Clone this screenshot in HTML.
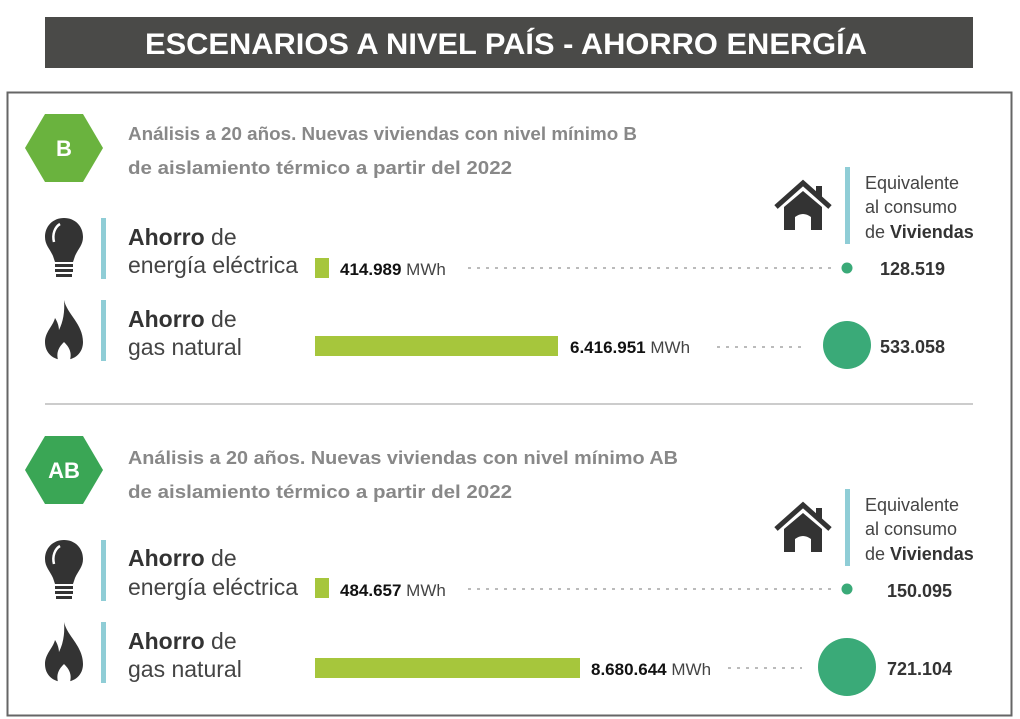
<!DOCTYPE html>
<html><head><meta charset="utf-8"><style>
html,body{margin:0;padding:0;background:#fff;}
svg{display:block;font-family:"Liberation Sans",sans-serif;}
</style></head><body>
<svg width="1020" height="719" viewBox="0 0 1020 719" xmlns="http://www.w3.org/2000/svg">
<defs>
<g id="bulb">
<path d="M19 0 C8 0 0 8 0 19 C0 27 5 31 8 38 L10 44 L28 44 L30 38 C33 31 38 27 38 19 C38 8 30 0 19 0 Z" fill="#333"/>
<rect x="10" y="46" width="18" height="3" fill="#333"/><rect x="10" y="51" width="18" height="3" fill="#333"/><rect x="11" y="56" width="16" height="3" fill="#333"/>
<path d="M9 24 C7 16 10 9 15 6" stroke="#fff" stroke-width="2.5" fill="none"/>
</g>
<g id="flame">
<path d="M19 0 C22 14 38 24 38 42 C38 53 30 60 19 60 C8 60 0 53 0 42 C0 32 8 26 10 18 C14 24 14 30 14 30 C18 22 20 12 19 0 Z" fill="#333"/>
<path d="M13 60 C11 52 14 47 19 42 C24 47 27 52 25 60 Z" fill="#fff"/>
</g>
<g id="house">
<path d="M0 24 L27 0 L54 24" stroke="#333" stroke-width="5" fill="none" stroke-linejoin="miter"/>
<rect x="40" y="3" width="6" height="12" fill="#333"/>
<path d="M8 24 L27 8 L46 24 L46 47 L35 47 L35 34 Q27 28 19 34 L19 47 L8 47 Z" fill="#333"/>
</g>
</defs>
<rect x="45" y="17" width="928" height="51" fill="#4a4a48"/>
<text x="506" y="54" text-anchor="middle" fill="#fff" font-size="30" font-weight="bold" textLength="722" lengthAdjust="spacingAndGlyphs">ESCENARIOS A NIVEL PAÍS - AHORRO ENERGÍA</text>
<rect x="7.5" y="92.5" width="1004" height="623" fill="none" stroke="#666" stroke-width="2"/>
<line x1="45" y1="404" x2="973" y2="404" stroke="#ccc" stroke-width="2"/>

<!-- Section B -->
<polygon points="25,148 45,114 83,114 103,148 83,182 45,182" fill="#6ab33e"/>
<text x="64" y="156" text-anchor="middle" fill="#fff" font-weight="bold" font-size="22">B</text>
<g fill="#888" font-weight="bold" font-size="18">
<text x="128" y="140" textLength="509" lengthAdjust="spacingAndGlyphs">Análisis a 20 años. Nuevas viviendas con nivel mínimo B</text>
<text x="128" y="174" textLength="384" lengthAdjust="spacingAndGlyphs">de aislamiento térmico a partir del 2022</text>
</g>
<use href="#house" x="776" y="183"/>
<rect x="845" y="167" width="5" height="77" fill="#8fcdd6"/>
<g fill="#444" font-size="18"><text x="865" y="189">Equivalente</text><text x="865" y="213">al consumo</text><text x="865" y="238">de <tspan font-weight="bold" fill="#333">Viviendas</tspan></text></g>
<use href="#bulb" x="45" y="218"/>
<rect x="101" y="218" width="5" height="61" fill="#8fcdd6"/>
<g fill="#444" font-size="23"><text x="128" y="245"><tspan font-weight="bold" fill="#333">Ahorro</tspan> de</text><text x="128" y="273">energía eléctrica</text></g>
<rect x="315" y="258" width="14" height="20" fill="#a6c63c"/>
<text x="340" y="275" font-size="17" fill="#444"><tspan font-weight="bold" fill="#111">414.989</tspan> MWh</text>
<line x1="468" y1="268" x2="832" y2="268" stroke="#bbb" stroke-width="2" stroke-dasharray="3,6"/>
<circle cx="847" cy="268" r="5.5" fill="#3aaa78"/>
<text x="880" y="275" font-size="18" font-weight="bold" fill="#333">128.519</text>
<use href="#flame" x="45" y="300"/>
<rect x="101" y="300" width="5" height="61" fill="#8fcdd6"/>
<g fill="#444" font-size="23"><text x="128" y="327"><tspan font-weight="bold" fill="#333">Ahorro</tspan> de</text><text x="128" y="355">gas natural</text></g>
<rect x="315" y="336" width="243" height="20" fill="#a6c63c"/>
<text x="570" y="353" font-size="17" fill="#444"><tspan font-weight="bold" fill="#111">6.416.951</tspan> MWh</text>
<line x1="717" y1="347" x2="806" y2="347" stroke="#bbb" stroke-width="2" stroke-dasharray="3,6"/>
<circle cx="847" cy="345" r="24" fill="#3aaa78"/>
<text x="880" y="353" font-size="18" font-weight="bold" fill="#333">533.058</text>

<!-- Section AB -->
<polygon points="25,470 45,436 83,436 103,470 83,504 45,504" fill="#3aa655"/>
<text x="64" y="478" text-anchor="middle" fill="#fff" font-weight="bold" font-size="22">AB</text>
<g fill="#888" font-weight="bold" font-size="18">
<text x="128" y="464" textLength="550" lengthAdjust="spacingAndGlyphs">Análisis a 20 años. Nuevas viviendas con nivel mínimo AB</text>
<text x="128" y="498" textLength="384" lengthAdjust="spacingAndGlyphs">de aislamiento térmico a partir del 2022</text>
</g>
<use href="#house" x="776" y="505"/>
<rect x="845" y="489" width="5" height="77" fill="#8fcdd6"/>
<g fill="#444" font-size="18"><text x="865" y="511">Equivalente</text><text x="865" y="535">al consumo</text><text x="865" y="560">de <tspan font-weight="bold" fill="#333">Viviendas</tspan></text></g>
<use href="#bulb" x="45" y="540"/>
<rect x="101" y="540" width="5" height="61" fill="#8fcdd6"/>
<g fill="#444" font-size="23"><text x="128" y="566"><tspan font-weight="bold" fill="#333">Ahorro</tspan> de</text><text x="128" y="595">energía eléctrica</text></g>
<rect x="315" y="578" width="14" height="20" fill="#a6c63c"/>
<text x="340" y="596" font-size="17" fill="#444"><tspan font-weight="bold" fill="#111">484.657</tspan> MWh</text>
<line x1="468" y1="589" x2="832" y2="589" stroke="#bbb" stroke-width="2" stroke-dasharray="3,6"/>
<circle cx="847" cy="589" r="5.5" fill="#3aaa78"/>
<text x="887" y="597" font-size="18" font-weight="bold" fill="#333">150.095</text>
<use href="#flame" x="45" y="622"/>
<rect x="101" y="622" width="5" height="61" fill="#8fcdd6"/>
<g fill="#444" font-size="23"><text x="128" y="649"><tspan font-weight="bold" fill="#333">Ahorro</tspan> de</text><text x="128" y="677">gas natural</text></g>
<rect x="315" y="658" width="265" height="20" fill="#a6c63c"/>
<text x="591" y="675" font-size="17" fill="#444"><tspan font-weight="bold" fill="#111">8.680.644</tspan> MWh</text>
<line x1="728" y1="668" x2="802" y2="668" stroke="#bbb" stroke-width="2" stroke-dasharray="3,6"/>
<circle cx="847" cy="667" r="29" fill="#3aaa78"/>
<text x="887" y="675" font-size="18" font-weight="bold" fill="#333">721.104</text>
</svg>
</body></html>
